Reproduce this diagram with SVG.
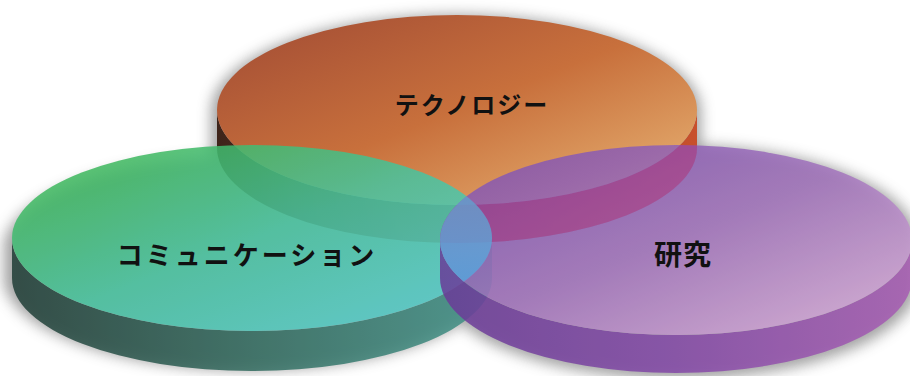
<svg xmlns="http://www.w3.org/2000/svg" width="910" height="376" viewBox="0 0 910 376">
<style>
  .lbl { font-family: "Noto Sans CJK JP", "Noto Sans", sans-serif; font-weight: 700; fill: #111; text-anchor: middle; dominant-baseline: central; }
</style>
<defs>
  <filter id="blur" x="-20%" y="-40%" width="140%" height="180%"><feGaussianBlur stdDeviation="7"/></filter>
  <linearGradient id="oTop" x1="0" y1="0" x2="1" y2="1">
    <stop offset="0" stop-color="#a04a34"/>
    <stop offset="0.5" stop-color="#c8703c"/>
    <stop offset="1" stop-color="#eab878"/>
  </linearGradient>
  <linearGradient id="oSide" x1="0" y1="0" x2="1" y2="0">
    <stop offset="0" stop-color="#3e241a"/>
    <stop offset="0.5" stop-color="#8a4028"/>
    <stop offset="1" stop-color="#c8502c"/>
  </linearGradient>
  <linearGradient id="gTop" x1="0" y1="0" x2="1" y2="1">
    <stop offset="0" stop-color="#3cb444"/>
    <stop offset="0.5" stop-color="#48c4a0"/>
    <stop offset="1" stop-color="#5ad0d8"/>
  </linearGradient>
  <linearGradient id="gSide" x1="0" y1="0" x2="1" y2="0">
    <stop offset="0" stop-color="#223f38"/>
    <stop offset="0.5" stop-color="#336c60"/>
    <stop offset="1" stop-color="#43948a"/>
  </linearGradient>
  <linearGradient id="pTop" x1="0" y1="0" x2="1" y2="1">
    <stop offset="0" stop-color="#7a4cb0"/>
    <stop offset="0.5" stop-color="#a474be"/>
    <stop offset="1" stop-color="#e2b6e0"/>
  </linearGradient>
  <linearGradient id="pSide" x1="0" y1="0" x2="1" y2="0">
    <stop offset="0" stop-color="#6a3a98"/>
    <stop offset="0.5" stop-color="#8448a8"/>
    <stop offset="1" stop-color="#a85cb4"/>
  </linearGradient>
  <linearGradient id="lens" x1="0" y1="0" x2="0" y2="1">
    <stop offset="0" stop-color="#6f9cc0"/>
    <stop offset="0.55" stop-color="#5aa6d8"/>
    <stop offset="1" stop-color="#3aa8e6"/>
  </linearGradient>
  <clipPath id="greenTop"><ellipse cx="252" cy="238" rx="240" ry="93"/></clipPath>
  <clipPath id="orangeSide"><path d="M217,110 A240,95 0 0 0 697,110 L697,148 A240,95 0 0 1 217,148 Z"/></clipPath>
</defs>

<rect width="910" height="376" fill="#ffffff"/>

<g id="shadows" fill="#555" opacity="0.55" filter="url(#blur)">
  <path d="M211,112 A244,97 0 0 1 701,112 L701,152 A244,97 0 0 1 211,152 Z"/>
  <path d="M4,242 A246,95 0 0 1 494,242 L494,284 A246,95 0 0 1 4,284 Z"/>
  <path d="M438,242 A240,97 0 0 1 918,242 L918,282 A240,97 0 0 1 438,282 Z"/>
</g>

<g id="technology">
  <path d="M217,110 A240,95 0 0 0 697,110 L697,148 A240,95 0 0 1 217,148 Z" fill="url(#oSide)"/>
  <ellipse cx="457" cy="110" rx="240" ry="95" fill="url(#oTop)"/>
  <text class="lbl" x="472" y="103" font-size="24" letter-spacing="2">テクノロジー</text>
</g>

<g id="communication" opacity="0.86">
  <path d="M12,238 A240,93 0 0 0 492,238 L492,278 A240,93 0 0 1 12,278 Z" fill="url(#gSide)"/>
  <ellipse cx="252" cy="238" rx="240" ry="93" fill="url(#gTop)"/>
</g>

<g id="research">
  <g opacity="0.84">
    <path d="M440,240 A236,95 0 0 0 912,240 L912,278 A236,95 0 0 1 440,278 Z" fill="url(#pSide)"/>
    <ellipse cx="676" cy="240" rx="236" ry="95" fill="url(#pTop)"/>
  </g>
  <ellipse cx="676" cy="240" rx="236" ry="95" fill="#b02a78" opacity="0.35" clip-path="url(#orangeSide)"/>
  <ellipse cx="676" cy="240" rx="236" ry="95" fill="url(#lens)" opacity="0.75" clip-path="url(#greenTop)"/>
</g>

<g id="labels">
  <text class="lbl" x="247" y="253" font-size="26" letter-spacing="3">コミュニケーション</text>
  <text class="lbl" x="683" y="253" font-size="28" letter-spacing="1">研究</text>
</g>

<g id="connectors"/>
</svg>
